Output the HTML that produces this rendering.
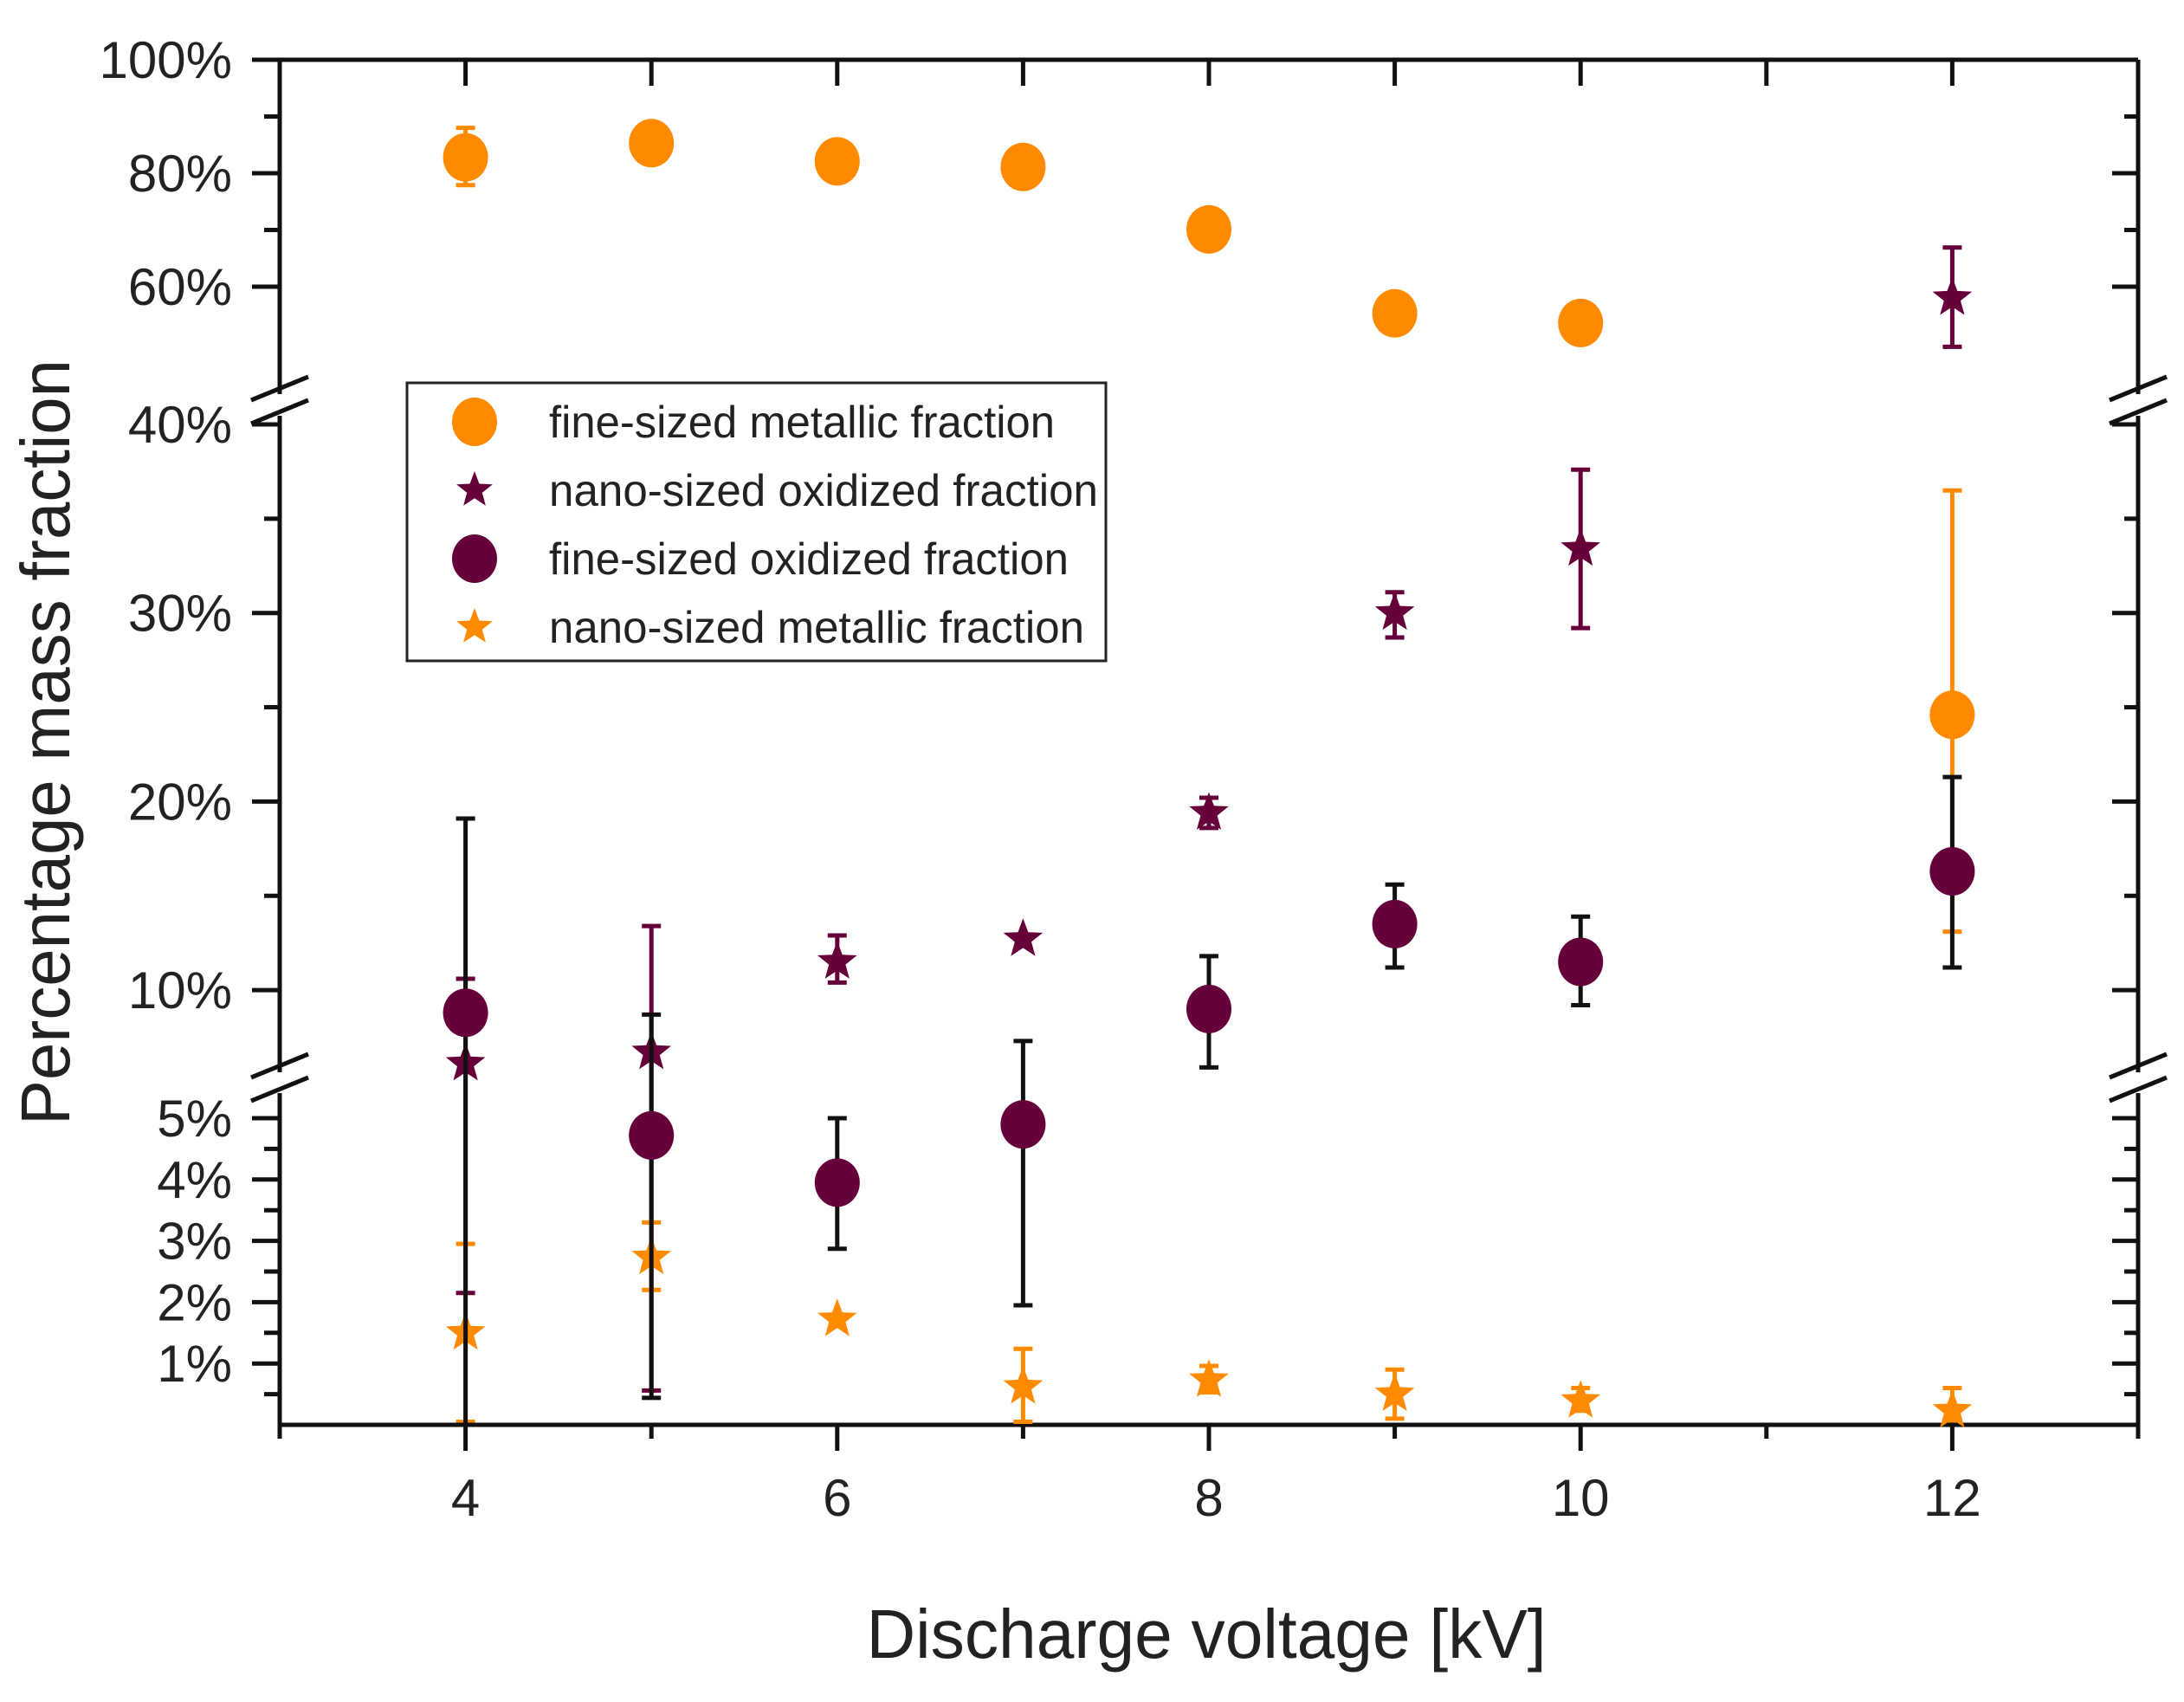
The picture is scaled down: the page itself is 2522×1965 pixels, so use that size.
<!DOCTYPE html>
<html><head><meta charset="utf-8">
<style>
html,body{margin:0;padding:0;background:#fff;}
svg{display:block;}
text{font-family:"Liberation Sans",sans-serif;fill:#222;}
</style></head>
<body>
<svg id="chart" width="2522" height="1965" viewBox="0 0 2522 1965" xmlns="http://www.w3.org/2000/svg">
<g id="axes"></g>
<g id="marks"></g>
<g id="legend"></g>
<text x="1393" y="1914" font-size="80" text-anchor="middle" textLength="785" lengthAdjust="spacingAndGlyphs">Discharge voltage [kV]</text>
<text transform="translate(80,857) rotate(-90)" font-size="80" text-anchor="middle" textLength="884" lengthAdjust="spacingAndGlyphs">Percentage mass fraction</text>
</svg>
<script>
const voltages = [4, 5, 6, 7, 8, 9, 10, 12];
const fineMetal = [82.8, 85.3, 82.1, 81.1, 70.1, 55.3, 53.6, 24.6];
const fineMetalHi = [88.0, 86.5, 83.5, 82.5, 71.3, 56.5, 54.8, 36.5];
const fineMetalLo = [77.9, 84.0, 80.8, 79.8, 68.9, 54.0, 52.3, 13.1];
const nanoOx = [6.1, 6.7, 11.5, 12.7, 19.4, 30.0, 33.4, 58.0];
const nanoOxHi = [10.6, 13.4, 12.9, null, 20.2, 31.1, 37.6, 66.9];
const nanoOxLo = [2.15, 0.56, 10.4, null, 18.6, 28.7, 29.2, 49.4];
const fineOx = [8.8, 4.72, 3.95, 4.9, 9.0, 13.5, 11.5, 16.3];
const fineOxHi = [19.1, 8.7, 5.0, 7.3, 11.8, 15.6, 13.9, 21.3];
const fineOxLo = [0.0, 0.44, 2.87, 1.95, 5.9, 11.2, 9.2, 11.2];
const nanoMetal = [1.5, 2.73, 1.72, 0.62, 0.73, 0.5, 0.39, 0.23];
const nanoMetalHi = [2.95, 3.3, null, 1.24, 0.96, 0.9, 0.6, 0.6];
const nanoMetalLo = [0.05, 2.2, null, 0.05, 0.53, 0.1, 0.23, 0.07];
const xTickLabels = ["4", "6", "8", "10", "12"];
const yTickLabels = ["100%", "80%", "60%", "40%", "30%", "20%", "10%", "5%", "4%", "3%", "2%", "1%"];
const yTickValues = [100, 80, 60, 40, 30, 20, 10, 5, 4, 3, 2, 1];

const ORANGE = "#ff8a00", PURPLE = "#66003a";
const L = 323, R = 2469, T = 69, B = 1645;
const NS = "http://www.w3.org/2000/svg";
function xs(v){ return L + (v - 3) * (R - L) / 10; }
function ys(v){
  if (v >= 41.5) return 69 + (100 - v) * 6.55;
  if (v >= 5.5) return 490 + (40 - v) * 21.77;
  return 1645 - v * 70.8;
}
function mk(tag, attrs, parent){
  const e = document.createElementNS(NS, tag);
  for (const k in attrs) e.setAttribute(k, attrs[k]);
  parent.appendChild(e);
  return e;
}
const axes = document.getElementById('axes');
const marks = document.getElementById('marks');
const legend = document.getElementById('legend');

let ln;
ln = mk('line', {x1:L, y1:T, x2:R, y2:T, stroke:'#111', 'stroke-width':5}, axes);


ln = mk('line', {x1:L, y1:B, x2:R, y2:B, stroke:'#111', 'stroke-width':5}, axes);


const segs = [[T, 455], [480, 1238], [1262, B]];
segs.forEach(s => {
  let a = mk('line', {x1:L, y1:s[0], x2:L, y2:s[1], stroke:'#111', 'stroke-width':5}, axes);
  
  
  let b = mk('line', {x1:R, y1:s[0], x2:R, y2:s[1], stroke:'#111', 'stroke-width':5}, axes);
  
  
});
[[462, 435], [1244, 1217]].forEach(p => {
  [L, R].forEach(cx => {
    [0, 27].forEach(off => {
      let m = mk('line', {x1:cx-33, y1:p[0]+off, x2:cx+33, y2:p[1]+off, stroke:'#111', 'stroke-width':5}, axes);
      
      
    });
  });
});
for (let v = 3; v <= 13; v++) {
  const x = xs(v);
  let t = mk('line', {x1:x, y1:B, x2:x, y2:B + (v % 2 === 0 ? 30 : 16), stroke:'#111', 'stroke-width':5}, axes);
  
  
  if (v > 3 && v < 13) {
    let u = mk('line', {x1:x, y1:T, x2:x, y2:T + 30, stroke:'#111', 'stroke-width':5}, axes);
    
    
  }
}
xTickLabels.forEach(lbl => {
  let t = mk('text', {x:xs(+lbl), y:1750, 'font-size':60, 'text-anchor':'middle'}, axes);
  t.textContent = lbl;
  
  
});
const minorTicks = [90, 70, 35, 25, 15, 4.5, 3.5, 2.5, 1.5, 0.5];
yTickValues.forEach((v, i) => {
  const y = ys(v);
  let t = mk('line', {x1:L - 32, y1:y, x2:L, y2:y, stroke:'#111', 'stroke-width':5}, axes);
  
  
  let r = mk('line', {x1:R - 30, y1:y, x2:R, y2:y, stroke:'#111', 'stroke-width':5}, axes);
  
  
  let lb = mk('text', {x:268, y:y + 21, 'font-size':60, 'text-anchor':'end'}, axes);
  lb.textContent = yTickLabels[i];
  
  
});
minorTicks.forEach(v => {
  const y = ys(v);
  let t = mk('line', {x1:L - 18, y1:y, x2:L, y2:y, stroke:'#111', 'stroke-width':5}, axes);
  
  
  let r = mk('line', {x1:R - 16, y1:y, x2:R, y2:y, stroke:'#111', 'stroke-width':5}, axes);
  
  
});

function starPath(cx, cy, r){
  let d = '';
  for (let i = 0; i < 10; i++) {
    const rr = i % 2 === 0 ? r : r * 0.42;
    const a = -Math.PI / 2 + i * Math.PI / 5;
    d += (i ? 'L' : 'M') + (cx + rr * Math.cos(a)).toFixed(1) + ',' + (cy + rr * Math.sin(a)).toFixed(1);
  }
  return d + 'Z';
}
function errBar(x, hi, lo, color, name){
  if (hi == null) return;
  const y1 = ys(hi), y2 = ys(lo);
  let g = mk('g', {}, marks);
  
  
  mk('line', {x1:x, y1:y1, x2:x, y2:y2, stroke:color, 'stroke-width':5}, g);
  mk('line', {x1:x-11, y1:y1, x2:x+11, y2:y1, stroke:color, 'stroke-width':5}, g);
  mk('line', {x1:x-11, y1:y2, x2:x+11, y2:y2, stroke:color, 'stroke-width':5}, g);
}
function circle(x, v, color, name){
  let c = mk('ellipse', {cx:x, cy:ys(v), rx:26, ry:28, fill:color}, marks);
  
  
}
function star(x, v, color, name){
  let s = mk('path', {d:starPath(x, ys(v), 24), fill:color}, marks);
  
  
}
voltages.forEach((kv, i) => {
  const x = xs(kv);
  errBar(x, fineMetalHi[i], fineMetalLo[i], ORANGE, 'fine-metallic-error-bar');
  circle(x, fineMetal[i], ORANGE, 'fine-metallic-point');
  errBar(x, nanoOxHi[i], nanoOxLo[i], PURPLE, 'nano-oxidized-error-bar');
  star(x, nanoOx[i], PURPLE, 'nano-oxidized-point');
  errBar(x, nanoMetalHi[i], nanoMetalLo[i], ORANGE, 'nano-metallic-error-bar');
  star(x, nanoMetal[i], ORANGE, 'nano-metallic-point');
  errBar(x, fineOxHi[i], fineOxLo[i], '#111', 'fine-oxidized-error-bar');
  circle(x, fineOx[i], PURPLE, 'fine-oxidized-point');
});

let box = mk('rect', {x:470, y:442, width:807, height:321, fill:'#fff', stroke:'#222', 'stroke-width':3}, legend);


const legLabels = ["fine-sized metallic fraction", "nano-sized oxidized fraction", "fine-sized oxidized fraction", "nano-sized metallic fraction"];
const legWidths = [584, 634, 600, 618];
const legY = [487, 566, 645, 724];
legLabels.forEach((lbl, i) => {
  const y = legY[i];
  if (i === 0 || i === 2) {
    let c = mk('ellipse', {cx:548, cy:y, rx:26, ry:28, fill: i === 0 ? ORANGE : PURPLE}, legend);
    
    
  } else {
    let s = mk('path', {d:starPath(548, y, 22), fill: i === 1 ? PURPLE : ORANGE}, legend);
    
    
  }
  let t = mk('text', {x:634, y:y + 18, 'font-size':52, textLength:legWidths[i], lengthAdjust:'spacingAndGlyphs'}, legend);
  t.textContent = lbl;
  
  
});
</script>
</body></html>
